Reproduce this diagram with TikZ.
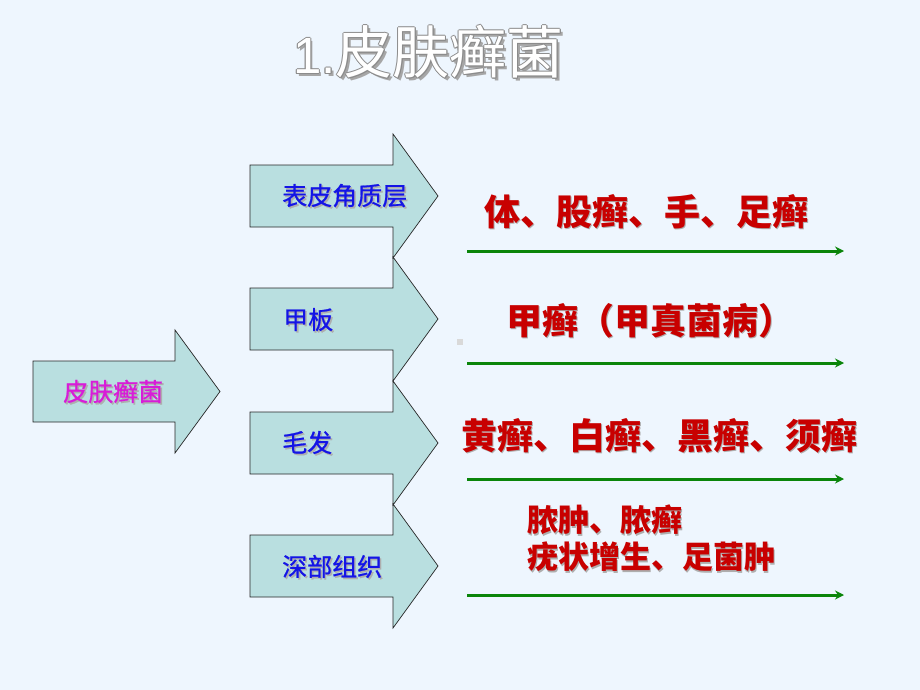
\documentclass[tikz,border=0pt]{standalone}
\usepackage{fontspec}
\setmainfont{Liberation Sans}
\newfontfamily\cjk{Noto Sans CJK SC}
\newfontfamily\cjkm[FakeBold=0.8]{Noto Sans CJK SC}
\usetikzlibrary{arrows.meta}
\definecolor{bg}{HTML}{EEF6FE}
\definecolor{afill}{HTML}{B9DFE0}
\definecolor{lblue}{HTML}{1414E6}
\definecolor{lmag}{HTML}{D81CD8}
\definecolor{dred}{HTML}{C80000}
\definecolor{dgreen}{HTML}{0A850A}
\definecolor{shgray}{HTML}{8C8C8C}
\tikzset{
  blockarrow/.style={fill=afill, draw=black!85, line width=0.7pt, line join=miter},
  lbl/.style={font=\cjkm\fontsize{25}{30}\selectfont, inner sep=0pt, anchor=west,
              text height=21pt, text depth=3pt},
  redtxt/.style={font=\cjk\bfseries\fontsize{36}{42}\selectfont, inner sep=0pt, anchor=west,
              text height=31pt, text depth=5pt},
  redsm/.style={font=\cjk\bfseries\fontsize{31}{37}\selectfont, inner sep=0pt, anchor=west,
              text height=27pt, text depth=4pt},
  garrow/.style={draw=dgreen, line width=3pt, -{Stealth[length=9pt,width=9pt]}},
}
% name, x, y, style, colour, text
\newcommand\shtext[6]{%
  \node[#4, text=shgray!70] (#1s) at ({#2+1.6},{#3+1.6}) {#6};
  \node[#4, text=#5] (#1) at (#2,#3) {#6};}
% arrow: x left, y centre, x head base, x tip, half body, half head
\newcommand\blockarr[6]{%
  \path[blockarrow] (#1,{#2-#5}) -- (#3,{#2-#5}) -- (#3,{#2-#6}) -- (#4,#2)
     -- (#3,{#2+#6}) -- (#3,{#2+#5}) -- (#1,{#2+#5}) -- cycle;}
\begin{document}
\begin{tikzpicture}[x=1pt,y=-1pt]
\useasboundingbox (0,0) rectangle (920,690);
\fill[bg] (0,0) rectangle (920,690);

% title with outline and shadow
\tikzset{ttl/.style={font=\fontsize{51}{56}\selectfont, inner sep=0pt, anchor=west,
  text height=38pt, text depth=6pt}}
\newcommand\ttltext{1.{\cjk\fontsize{57}{62}\selectfont 皮肤癣菌}}
\node[ttl, text=black!35] (tsh) at (295.5,60.5) {\ttltext};
\foreach \dx/\dy [count=\i] in {-1/0,1/0,0/-1,0/1,-0.7/-0.7,0.7/-0.7,-0.7/0.7,0.7/0.7}
  \node[ttl, text=black!45] (to\i) at ({293+\dx},{58+\dy}) {\ttltext};
\node[ttl, text=white] (title) at (293,58) {\ttltext};

% left block arrow
\blockarr{33}{391.5}{175}{220}{30.5}{61.5}
\shtext{root}{63}{392}{lbl}{lmag}{皮肤癣菌}

% four block arrows
\blockarr{250}{196}{393}{438}{31}{62}
\blockarr{250}{319}{393}{438}{31}{62}
\blockarr{250}{443}{393}{438}{31}{62}
\blockarr{250}{566}{393}{438}{31}{62}
\shtext{a1}{282}{196}{lbl}{lblue}{表皮角质层}
\shtext{a2}{283}{320}{lbl}{lblue}{甲板}
\shtext{a3}{282}{443}{lbl}{lblue}{毛发}
\shtext{a4}{282}{567}{lbl}{lblue}{深部组织}

% small grey square
\fill[black!15] (457,339) rectangle (463,345);

% red texts
\shtext{r1}{484}{212}{redtxt}{dred}{体、股癣、手、足癣}
\shtext{r2}{506}{321}{redtxt}{dred}{甲癣（甲真菌病）}
\shtext{r3}{461}{436}{redtxt}{dred}{黄癣、白癣、黑癣、须癣}
\shtext{r4a}{527}{520}{redsm}{dred}{脓肿、脓癣}
\shtext{r4b}{527}{557}{redsm}{dred}{疣状增生、足菌肿}

% green arrows
\coordinate (g1s) at (467,251); \coordinate (g1e) at (844,251);
\coordinate (g2s) at (467,363); \coordinate (g2e) at (844,363);
\coordinate (g3s) at (467,479); \coordinate (g3e) at (844,479);
\coordinate (g4s) at (467,595); \coordinate (g4e) at (844,595);
\draw[garrow] (g1s) -- (g1e);
\draw[garrow] (g2s) -- (g2e);
\draw[garrow] (g3s) -- (g3e);
\draw[garrow] (g4s) -- (g4e);
\end{tikzpicture}
\end{document}
